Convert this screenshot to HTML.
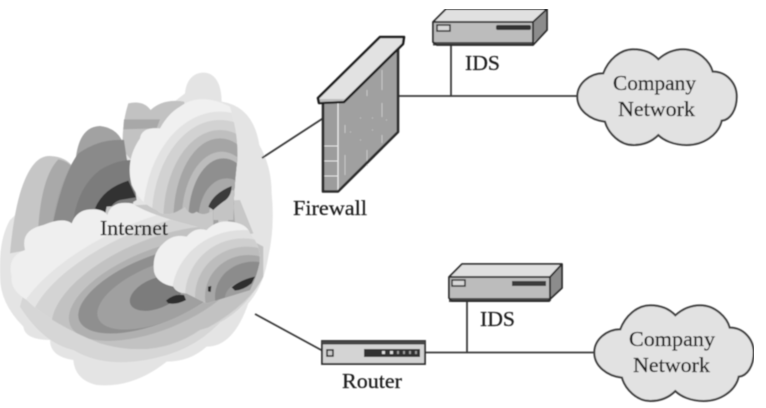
<!DOCTYPE html>
<html><head><meta charset="utf-8"><style>
html,body{margin:0;padding:0;background:#fff}
svg{display:block}
text{font-family:"Liberation Serif",serif;font-size:21.5px;fill:#1f1f1f;stroke:#1f1f1f;stroke-width:.25px}
</style></head><body>
<svg width="766" height="408" viewBox="0 0 766 408" xmlns="http://www.w3.org/2000/svg">
<defs>
<filter id="b" x="0" y="0" width="100%" height="100%"><feGaussianBlur stdDeviation="0.55"/></filter>
<path id="cUR" d="M395,375 Q375,300 420,235 Q425,200 480,205 Q505,160 540,140 Q600,95 690,140 Q715,220 712,300 Q700,400 700,480 L640,480 L640,450 Q610,470 590,455 Q570,470 555,440 Q500,480 470,450 Q420,430 395,375Z"/>
<path id="cL" d="M35,650 Q20,590 75,570 Q60,510 130,495 Q190,470 215,490 Q230,450 270,448 Q310,445 322,465 Q335,420 395,430 Q460,470 610,505 Q720,520 790,560 L790,650 Q720,780 600,810 Q470,900 300,850 Q150,790 80,720 Q30,690 35,650Z"/>
<path id="cS" d="M462,635 Q455,580 490,550 Q520,520 560,530 Q585,500 620,510 Q650,480 690,485 Q740,490 750,520 Q785,560 778,610 Q770,650 750,690 L620,730 L560,700 Q530,700 520,680 Q470,670 462,635Z"/>
<clipPath id="cpUR"><use href="#cUR"/></clipPath>
<clipPath id="cpL"><use href="#cL"/></clipPath>
<clipPath id="cpS"><use href="#cS"/></clipPath>
<path id="co" d="M100,100 C115,60 150,28 190,28 C225,28 250,42 265,58 C285,40 310,28 340,28 C385,28 420,65 428,95 C470,95 500,130 500,170 C500,210 480,240 455,242 C445,285 400,315 350,315 C310,315 280,300 265,285 C245,305 220,315 190,315 C150,315 115,280 105,245 C60,240 22,210 22,170 C22,130 60,100 100,100Z"/>
</defs>
<rect width="766" height="408" fill="#fff"/>
<g filter="url(#b)">
<!-- Internet cloud -->
<g transform="translate(0,60) scale(.33333)">
<path fill="#e4e4e4" d="M555,100 C560,50 590,38 610,38 C650,38 665,80 665,125 Q760,140 778,255 Q815,320 815,400 Q825,500 805,590 Q790,680 745,730 Q700,860 620,860 Q570,905 500,905 Q400,985 290,975 Q225,960 220,900 Q150,890 150,840 Q75,840 70,800 Q0,730 0,650 Q-5,540 30,480 L200,320 L400,220Z"/>
<path fill="#d6d6d6" d="M60,740 Q130,850 220,870 Q330,935 500,885 Q620,850 700,740 L700,600 L100,600Z"/>
<!-- back lobes -->
<path fill="#c2c2c2" d="M368,270 Q365,190 385,130 Q430,120 452,150 Q490,115 552,125 L580,220 L420,330Z"/>
<path fill="#a8a8a8" d="M372,178 L480,178 L470,205 L370,208Z"/>
<path fill="#c6c6c6" d="M30,580 Q40,470 60,400 Q95,285 150,288 Q200,290 222,325 L240,540Z"/>
<path fill="#a9a9a9" d="M115,500 Q125,350 175,298 Q210,305 222,330 L240,520Z"/>
<path fill="#a2a2a2" d="M155,510 Q170,380 228,290 Q240,200 300,198 Q360,205 372,262 L410,420 L300,480Z"/>
<path fill="#8a8a8a" d="M155,510 Q185,350 235,280 Q300,235 372,240 L400,430 L300,480Z"/>
<path fill="#7c7c7c" d="M220,480 Q235,380 300,330 Q350,300 395,300 L410,420 L300,480Z"/>
<path fill="#333" d="M285,445 Q310,385 385,362 L408,412 L360,420 Q330,430 325,465Z"/>
<path fill="#c8c8c8" d="M320,440 L720,420 L760,520 L500,580 L300,540Z"/>
<path fill="#a2a2a2" d="M640,455 L655,455 L655,500 L640,500Z"/>
<path fill="#a9a9a9" d="M680,430 L700,430 L705,490 L685,490Z"/>
<!-- upper right cloud -->
<g clip-path="url(#cpUR)">
<rect x="370" y="90" width="360" height="400" fill="#f0f0f0"/>
<ellipse cx="660" cy="480" rx="232" ry="325" fill="#e2e2e2"/>
<ellipse cx="660" cy="480" rx="205" ry="300" fill="#d2d2d2"/>
<ellipse cx="660" cy="480" rx="170" ry="270" fill="#bfbfbf"/>
<ellipse cx="660" cy="480" rx="140" ry="245" fill="#a5a5a5"/>
<ellipse cx="665" cy="480" rx="120" ry="205" fill="#bcbcbc"/>
<ellipse cx="670" cy="480" rx="105" ry="185" fill="#8f8f8f"/>
<ellipse cx="680" cy="480" rx="85" ry="125" fill="#a9a9a9"/>
<ellipse cx="690" cy="480" rx="65" ry="90" fill="#c4c4c4"/>
</g>
<path fill="#3a3a3a" d="M625,440 Q640,400 695,378 Q695,410 670,425 Q650,440 640,450Z"/>
<!-- lower big cloud -->
<g clip-path="url(#cpL)">
<rect x="0" y="400" width="800" height="520" fill="#efefef"/>
<ellipse cx="480" cy="690" rx="470" ry="215" transform="rotate(-22 480 690)" fill="#e4e4e4"/>
<ellipse cx="480" cy="690" rx="420" ry="190" transform="rotate(-22 480 690)" fill="#d4d4d4"/>
<ellipse cx="480" cy="695" rx="345" ry="160" transform="rotate(-22 480 695)" fill="#c2c2c2"/>
<ellipse cx="470" cy="690" rx="280" ry="120" transform="rotate(-22 470 690)" fill="#b0b0b0"/>
<ellipse cx="465" cy="690" rx="245" ry="100" transform="rotate(-22 465 690)" fill="#8f8f8f"/>
<ellipse cx="480" cy="700" rx="200" ry="85" transform="rotate(-22 480 700)" fill="#a0a0a0"/>
<ellipse cx="470" cy="700" rx="85" ry="45" transform="rotate(-22 470 700)" fill="#7c7c7c"/>
</g>
<!-- small cloud -->
<g clip-path="url(#cpS)">
<rect x="440" y="470" width="350" height="270" fill="#f0f0f0"/>
<ellipse cx="730" cy="710" rx="215" ry="200" fill="#e0e0e0"/>
<ellipse cx="730" cy="710" rx="175" ry="175" fill="#cfcfcf"/>
<ellipse cx="740" cy="710" rx="155" ry="150" fill="#bdbdbd"/>
<ellipse cx="745" cy="710" rx="130" ry="125" fill="#a6a6a6"/>
<ellipse cx="760" cy="710" rx="115" ry="105" fill="#8c8c8c"/>
<ellipse cx="770" cy="715" rx="95" ry="60" fill="#9d9d9d"/>
</g>
<path fill="#2f2f2f" d="M498,722 Q520,700 552,705 L558,720 Q530,735 505,730Z"/>
<path fill="#2f2f2f" d="M695,682 Q720,660 765,650 L755,670 Q730,690 705,692Z"/>
<path fill="#2f2f2f" d="M624,680 L634,678 L632,696 L624,694Z"/>
</g>
<!-- connectors -->
<g stroke="#3a3a3a" fill="none" stroke-width="1.8">
<path d="M262,158 L325,117"/>
<path d="M255,314 L323,351"/>
<path d="M398,96 H580"/>
<path d="M451,45 V96"/>
<path d="M423,352.500 H596"/>
<path d="M467,300 V352"/>
</g>
<!-- firewall -->
<polygon points="323,103 338,103 338,191 323,191" fill="#9c9c9c"/>
<polygon points="338,103 398,47 398,132 338,191" fill="#a0a0a0"/>
<path d="M338,103 V191" stroke="#eee" stroke-width="1.2"/>
<g stroke="#e6e6e6" stroke-width="1">
<path d="M324,146 H338 M324,161 H338 M324,176 H338"/>
<path d="M345,125 v8 M345,155 v20 M367,150 v16 M382,70 v20 M382,103 v14 M382,135 v8 M367,90 v6 M350,132 h1 M360,118 h1 M372,118 h1 M360,140 h1 M386,120 h1 M372,130 h1" stroke="#c8c8c8"/>
</g>
<path d="M323,104 V191.500 H338 L398,132 V47" fill="none" stroke="#2a2a2a" stroke-width="2.600" stroke-linejoin="round"/>
<polygon points="318,98 380,37 404,37 403,44 344,102 319,103" fill="#e2e2e2" stroke="#1f1f1f" stroke-width="2.600" stroke-linejoin="round"/>
<polygon points="320,99 345,99 342,101 320,102" fill="#bdbdbd"/>
<!-- IDS 1 -->
<polygon points="433,22 446,9 547,9 533,22" fill="#e0e0e0"/>
<polygon points="533,22 547,9 547,30 533,43" fill="#8c8c8c"/>
<rect x="433" y="22" width="100" height="20" fill="#bcbcbc"/>
<rect x="433" y="42" width="100" height="3.500" fill="#4a4a4a"/>
<path d="M433,22 L446,9 H547 V30 L533,45 H437 L433,42Z M433,22 H533 L547,9 M533,22 V45" fill="none" stroke="#2c2c2c" stroke-width="1.800" stroke-linejoin="round"/>
<rect x="437" y="25" width="13" height="6" fill="#d8d8d8" stroke="#333" stroke-width="1.500"/>
<rect x="496" y="25" width="35" height="5" rx="2" fill="#333"/>
<!-- IDS 2 -->
<polygon points="449,277 462,264 562,264 550,277" fill="#e0e0e0"/>
<polygon points="550,277 562,264 562,288 550,299" fill="#8c8c8c"/>
<rect x="449" y="277" width="101" height="21" fill="#bcbcbc"/>
<rect x="449" y="298" width="101" height="4" fill="#4a4a4a"/>
<path d="M449,277 L462,264 H562 V288 L548,301 H452 L449,298Z M449,277 H550 L562,264 M550,277 V301" fill="none" stroke="#2c2c2c" stroke-width="1.800" stroke-linejoin="round"/>
<rect x="452" y="280" width="13" height="6" fill="#d8d8d8" stroke="#333" stroke-width="1.500"/>
<rect x="512" y="281" width="34" height="5" fill="#3a3a3a"/>
<!-- router -->
<rect x="322" y="341" width="103" height="23" fill="#d4d4d4" stroke="#2c2c2c" stroke-width="1.800"/>
<rect x="322" y="341" width="103" height="3.500" fill="#444"/>
<rect x="327" y="350" width="6" height="6" fill="#ccc" stroke="#222" stroke-width="1.500"/>
<rect x="364" y="349" width="56" height="8" fill="#333"/>
<g fill="#ddd"><rect x="382" y="351" width="3" height="3"/><rect x="390" y="351" width="3" height="3"/><rect x="397" y="351" width="2" height="3" fill="#999"/><rect x="403" y="351" width="2" height="3" fill="#999"/><rect x="409" y="351" width="2" height="3" fill="#999"/><rect x="415" y="351" width="2" height="3" fill="#999"/></g>
<!-- company clouds -->
<g transform="translate(570,40) scale(.33333)"><use href="#co" fill="#e2e2e2" stroke="#3e3e3e" stroke-width="6"/></g>
<g transform="translate(587,296) scale(.33333)"><use href="#co" fill="#e2e2e2" stroke="#3e3e3e" stroke-width="6"/></g>
<!-- labels -->
<text x="100" y="235" textLength="68" lengthAdjust="spacingAndGlyphs">Internet</text>
<text x="293" y="215" textLength="74" lengthAdjust="spacingAndGlyphs">Firewall</text>
<text x="465" y="70" textLength="35" lengthAdjust="spacingAndGlyphs">IDS</text>
<text x="480" y="326" textLength="35" lengthAdjust="spacingAndGlyphs">IDS</text>
<text x="342" y="388" textLength="60" lengthAdjust="spacingAndGlyphs">Router</text>
<text x="613" y="90" textLength="83" lengthAdjust="spacingAndGlyphs">Company</text>
<text x="618" y="116" textLength="77" lengthAdjust="spacingAndGlyphs">Network</text>
<text x="629" y="346" textLength="86" lengthAdjust="spacingAndGlyphs">Company</text>
<text x="633" y="372" textLength="77" lengthAdjust="spacingAndGlyphs">Network</text>
</g>
</svg>
</body></html>
